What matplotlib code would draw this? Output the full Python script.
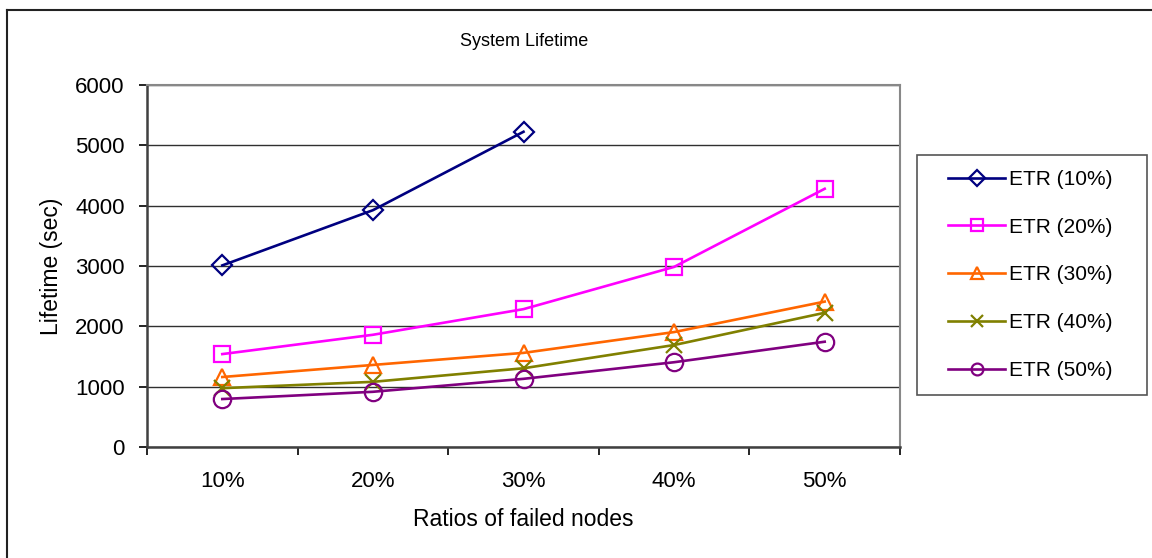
import matplotlib

matplotlib.use("Agg")
import matplotlib.pyplot as plt
from matplotlib.lines import Line2D
from matplotlib.patches import Rectangle

plt.rcParams["font.family"] = ["Liberation Sans", "DejaVu Sans"]

# ---- data ----
categories = ["10%", "20%", "30%", "40%", "50%"]
etr10 = [3010, 3925, 5225]
etr20 = [1540, 1860, 2285, 2985, 4280]
etr30 = [1160, 1360, 1560, 1905, 2410]
etr40 = [975, 1080, 1305, 1690, 2225]
etr50 = [795, 915, 1130, 1405, 1745]

series = [
    ("ETR (10%)", etr10, "#000080", "D", 10.5),
    ("ETR (20%)", etr20, "#FF00FF", "s", 12),
    ("ETR (30%)", etr30, "#FF6600", "^", 12),
    ("ETR (40%)", etr40, "#808000", "x", 11),
    ("ETR (50%)", etr50, "#800080", "o", 12.5),
]

W, H = 1152, 558
fig = plt.figure(figsize=(W / 100, H / 100), dpi=100)
ax = fig.add_axes([147 / W, 1 - 447 / H, (900 - 147) / W, (447 - 85) / H])

for label, vals, color, marker, ms in series:
    x = list(range(len(vals)))
    ax.plot(
        x, vals, color=color, lw=1.9, marker=marker, ms=ms,
        markerfacecolor="none", markeredgecolor=color, mew=1.6, label=label,
    )

ax.set_xlim(-0.5, len(categories) - 0.5)
ax.set_ylim(0, 6000)
ax.set_yticks(range(0, 6001, 1000))
ax.set_xticks(range(len(categories)))
ax.set_xticklabels(categories)
ax.set_xticks([i - 0.5 for i in range(len(categories) + 1)], minor=True)

ax.tick_params(axis="x", which="major", length=0, pad=17, labelsize=16)
ax.tick_params(axis="x", which="minor", length=6, width=1.2, direction="out", color="black")
ax.tick_params(axis="y", length=6, width=1.2, direction="out", pad=10, labelsize=16)

ax.yaxis.grid(True, color="#303030", lw=1.0)
ax.set_axisbelow(True)
for side in ["top", "right"]:
    ax.spines[side].set_color("#888888")
    ax.spines[side].set_linewidth(1.5)
for side in ["left", "bottom"]:
    ax.spines[side].set_color("#404040")
    ax.spines[side].set_linewidth(1.8)

ax.set_xlabel("Ratios of failed nodes", fontsize=16.5, labelpad=12)
ax.set_ylabel("Lifetime (sec)", fontsize=16.5, labelpad=9)

fig.text(524 / W, 1 - 42 / H, "System Lifetime", ha="center", va="center", fontsize=13)

# legend frame is drawn on its own, the legend itself has no frame
fig.add_artist(Rectangle(
    (917 / W, 1 - 395 / H), (1147 - 917) / W, (395 - 155) / H,
    transform=fig.transFigure, facecolor="white", edgecolor="#555555", lw=1.2,
))
leg = fig.legend(
    loc="center left",
    bbox_to_anchor=(948 / W, 1 - 275 / H),
    fontsize=15,
    frameon=False,
    labelspacing=1.38,
    handlelength=2.75,
    handletextpad=0.2,
    borderpad=0,
    borderaxespad=0,
)
for h in leg.legend_handles:
    h.set_markersize(8.5)

# outer chart frame
fig.add_artist(Line2D([7 / W, 7 / W], [0, 1 - 10 / H], color="#222222", lw=1.5))
fig.add_artist(Line2D([7 / W, 1], [1 - 10 / H, 1 - 10 / H], color="#222222", lw=1.5))

fig.savefig("out.png", dpi=100)
